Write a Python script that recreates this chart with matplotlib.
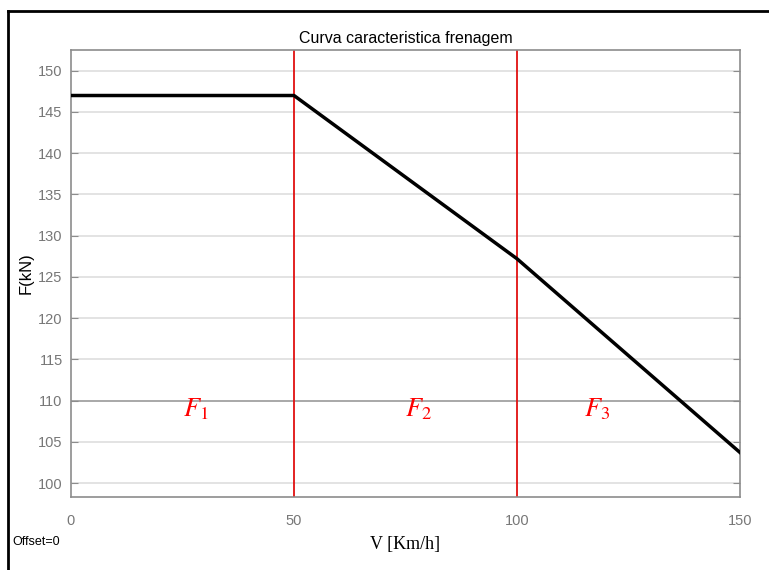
import matplotlib.pyplot as plt
from matplotlib.lines import Line2D

# braking characteristic curve
speed = [0, 50, 100, 150]          # km/h
force = [147, 147, 127.2, 103.7]   # kN
region_edges = [50, 100]
region_labels = ["$F_1$", "$F_2$", "$F_3$"]
region_label_x = [28, 78, 118]
region_label_y = 108.9

y_ticks = list(range(100, 151, 5))
x_ticks = [0, 50, 100, 150]

plt.rcParams["mathtext.fontset"] = "stix"

fig = plt.figure(figsize=(7.69, 5.70), dpi=100)
ax = fig.add_axes([0.0923, 0.128, 0.870, 0.784])

ax.set_xlim(0, 150)
ax.set_ylim(98.3, 152.5)
ax.set_xticks(x_ticks)
ax.set_yticks(y_ticks)

# horizontal grid only
for yt in y_ticks:
    col = "#9a9a9a" if yt == 110 else "#dedede"
    ax.axhline(yt, color=col, lw=1.2, zorder=0)

for xe in region_edges:
    ax.axvline(xe, color="#e01010", lw=1.3, zorder=2)

ax.plot(speed, force, color="black", lw=2.5, zorder=3)

for lab, xl in zip(region_labels, region_label_x):
    ax.text(xl, region_label_y, lab, color="red", fontsize=19, ha="center",
            va="center")

for sp in ax.spines.values():
    sp.set_color("#8c8c8c")
    sp.set_linewidth(1.2)

ax.tick_params(axis="both", direction="in", colors="#8c8c8c", labelcolor="#777777",
               labelsize=10.5, length=5)
ax.tick_params(axis="y", right=True, pad=6)
ax.tick_params(axis="x", length=0, pad=12)
for lbl in ax.get_xticklabels() + ax.get_yticklabels():
    lbl.set_family("Liberation Sans")

ax.set_title("Curva caracteristica frenagem", fontsize=11.5, family="Liberation Sans",
             pad=5)
ax.set_ylabel("F(kN)", fontsize=12, family="Liberation Sans", labelpad=3)
ax.set_xlabel("V [Km/h]", fontsize=13, family="Liberation Serif", labelpad=6)

fig.text(0.016, 0.049, "Offset=0", fontsize=9, family="Liberation Sans",
         ha="left", va="center")

# outer frame (left and top edges)
fig.add_artist(Line2D([0.0104, 0.0104], [0, 0.981], color="black", lw=2,
                      transform=fig.transFigure))
fig.add_artist(Line2D([0.0104, 1.0], [0.981, 0.981], color="black", lw=2,
                      transform=fig.transFigure))

fig.savefig("out.png", dpi=100)
